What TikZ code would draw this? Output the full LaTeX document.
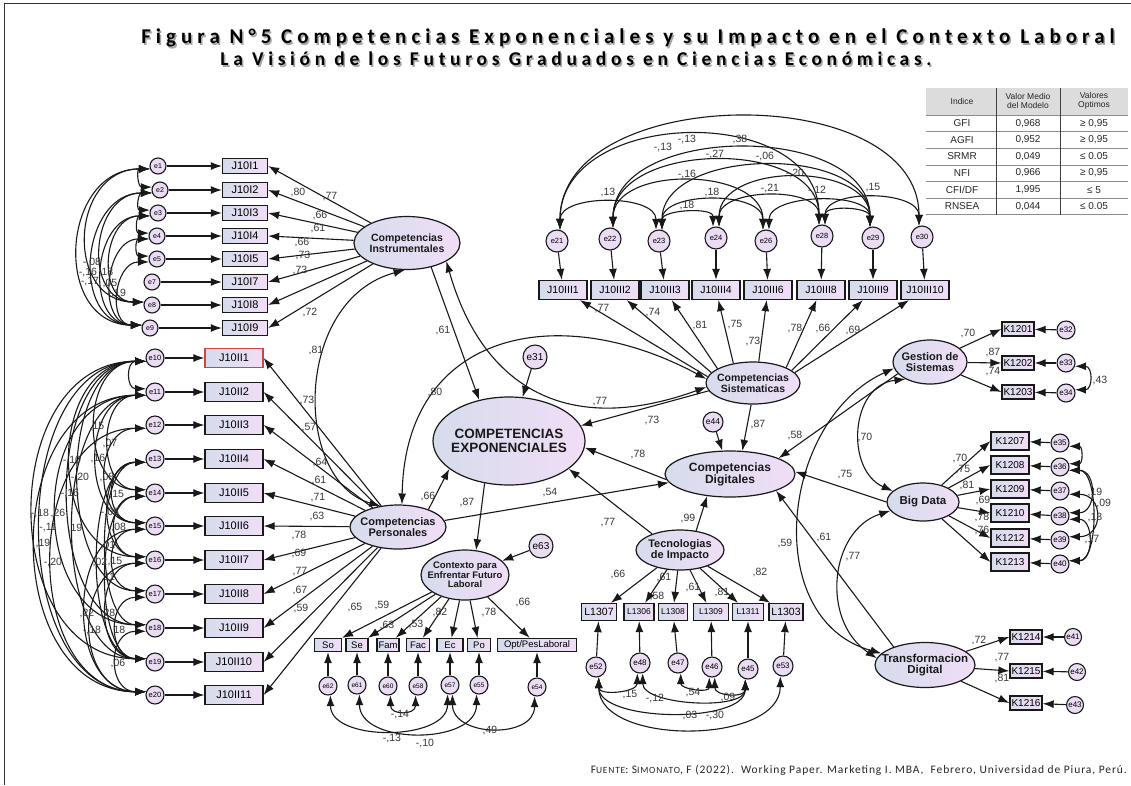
\documentclass[tikz,border=0pt]{standalone}
\usepackage{fontspec}
\setmainfont{Liberation Sans}
\newfontfamily\headfont{Carlito}
\usetikzlibrary{shapes.geometric,arrows.meta,calc}
\definecolor{lavL}{RGB}{214,220,236}
\definecolor{lavR}{RGB}{240,222,246}
\definecolor{errfill}{RGB}{234,220,242}
\definecolor{ink}{RGB}{25,25,25}
\definecolor{numc}{RGB}{55,55,55}
\definecolor{hdr}{RGB}{220,220,220}
\definecolor{redbox}{RGB}{205,70,70}
\newcommand\sz[1]{\fontsize{#1}{#1}\selectfont}
\tikzset{
  obs/.style={rectangle, draw=ink, line width=1.3pt, left color=lavL, right color=lavR,
              inner sep=0pt, minimum height=15pt, font=\sz{11}},
  plainbox/.style={},
  redline/.style={draw=redbox},
  lat/.style={ellipse, draw=ink, line width=1.2pt, left color=lavL, right color=lavR, inner sep=0pt},
  lattxt/.style={align=center, inner sep=0pt, text=ink, font=\bfseries\sz{#1}},
  err/.style={circle, draw=ink, line width=1.1pt, fill=errfill, inner sep=0pt, minimum size=#1},
  reg/.style={draw=ink, line width=1.1pt, -{Latex[length=11pt,width=8pt]}},
  cov/.style={draw=ink, line width=1.1pt, {Latex[length=11pt,width=8pt]}-{Latex[length=11pt,width=8pt]}},
  num/.style={text=numc, inner sep=0pt, font=\sz{10.5}},
  head/.style={inner sep=0pt, font=\headfont\bfseries\sz{#1}\addfontfeature{LetterSpace=24}},
}
% covariance arcs: left side, top side, bottom side, right side
\newcommand\lcov[3]{\draw[cov] (#1.200) .. controls +(-#3,0) and +(-#3,0) .. (#2.160);}
\newcommand\tcov[3]{\draw[cov] (#1.75) .. controls +(0,-#3) and +(0,-#3) .. (#2.105);}
\newcommand\bcov[3]{\draw[cov] (#1.285) .. controls +(0,#3) and +(0,#3) .. (#2.255);}
\newcommand\rcov[3]{\draw[cov] (#1.340) .. controls +(#3,0) and +(#3,0) .. (#2.20);}
\begin{document}
\begin{tikzpicture}[x=1pt,y=-1pt]
\useasboundingbox (0,0) rectangle (1131,785);
\fill[white] (0,0) rectangle (1131,785);
\draw[black!80, line width=1pt] (4,785) -- (4,3) -- (1131,3);

% ---------- heading ----------
\node[head=21, text=black!35] (titleAs) at (629.5,39.5)
  {Figura N°5 Competencias Exponenciales y su Impacto en el Contexto Laboral};
\node[head=21, text=black] (titleA) at (628,38)
  {Figura N°5 Competencias Exponenciales y su Impacto en el Contexto Laboral};
\node[head=19.5, text=black!35] (titleBs) at (577.5,60.5)
  {La Visión de los Futuros Graduados en Ciencias Económicas.};
\node[head=19.5, text=black] (titleB) at (576,59)
  {La Visión de los Futuros Graduados en Ciencias Económicas.};

% ---------- fit index table ----------
\fill[hdr] (926,88) rectangle (1128,115);
\foreach \yy in {115,131.6,148.2,164.8,181.4,198,214.6}
  \draw[black!45, line width=0.6pt] (926,\yy) -- (1128,\yy);
\draw[black!75, line width=0.8pt] (996,88) -- (996,214.6) (1060,88) -- (1060,214.6);
\begin{scope}[every node/.style={inner sep=0pt, text=black!85, align=center, font=\sz{8.5}}]
\node (th1) at (962,101) {Indice};
\node (th2) at (1028,101) {Valor Medio\\del Modelo};
\node (th3) at (1094,101) {Valores\\Optimos};
\end{scope}
\foreach \a/\b/\c [count=\i] in {GFI/{0,968}/{≥ 0,95}, AGFI/{0,952}/{≥ 0,95}, SRMR/{0,049}/{≤ 0.05},
    NFI/{0,966}/{≥ 0,95}, {CFI/DF}/{1,995}/{≤ 5}, RNSEA/{0,044}/{≤ 0.05}}{
  \pgfmathsetmacro\yy{115+16.6*(\i-0.5)}
  \node[inner sep=0pt, text=black!85, font=\sz{10}] (ta\i) at (962,\yy) {\a};
  \node[inner sep=0pt, text=black!85, font=\sz{10}] (tb\i) at (1028,\yy) {\b};
  \node[inner sep=0pt, text=black!85, font=\sz{10}] (tc\i) at (1094,\yy) {\c};
}

% ---------- latent variables ----------
\node[lat, minimum width=106pt, minimum height=53pt] (CI) at (407,243) {};
\node[lattxt=10.5] (CIt) at (CI) {Competencias\\Instrumentales};
\node[lat, minimum width=96pt, minimum height=44pt] (CP) at (398,527) {};
\node[lattxt=11] (CPt) at (CP) {Competencias\\Personales};
\node[lat, minimum width=152pt, minimum height=88pt] (CE) at (509,441) {};
\node[lattxt=13.5] (CEt) at (CE) {COMPETENCIAS\\EXPONENCIALES};
\node[lat, minimum width=94pt, minimum height=42pt] (CS) at (753,383) {};
\node[lattxt=10.5] (CSt) at (CS) {Competencias\\Sistematicas};
\node[lat, minimum width=130pt, minimum height=46pt] (CD) at (730,474) {};
\node[lattxt=12] (CDt) at (CD) {Competencias\\Digitales};
\node[lat, minimum width=88pt, minimum height=50pt] (CX) at (465,575) {};
\node[lattxt=9.5] (CXt) at (CX) {Contexto para\\Enfrentar Futuro\\Laboral};
\node[lat, minimum width=88pt, minimum height=40pt] (CT) at (680,550) {};
\node[lattxt=11] (CTt) at (CT) {Tecnologias\\de Impacto};
\node[lat, minimum width=74pt, minimum height=44pt] (CG) at (930,362) {};
\node[lattxt=11] (CGt) at (CG) {Gestion de\\Sistemas};
\node[lat, minimum width=72pt, minimum height=38pt] (CB) at (923,502) {};
\node[lattxt=11.5] (CBt) at (CB) {Big Data};
\node[lat, minimum width=100pt, minimum height=45pt] (CTD) at (925,665) {};
\node[lattxt=11.5] (CTDt) at (CTD) {Transformacion\\Digital};

\node[err=24pt, font=\sz{10}] (e31) at (535,357) {e31};
\node[err=20pt, font=\sz{8.5}] (e44) at (713,422) {e44};
\node[err=24pt, font=\sz{10}] (e63) at (541,546) {e63};

% ---------- instrumental indicators ----------
\foreach \n/\y/\ex in {1/166/158,2/190/160,3/213/158,4/236/157,5/259/157,7/282/152,8/305/152,9/328/150}{
  \node[obs, minimum width=45pt] (I\n) at (245,\y) {J10I\n};
  \node[err=16pt, font=\sz{7}] (e\n) at (\ex,\y) {e\n};
  \draw[reg] (e\n) -- (I\n);
  \draw[reg] (CI) -- (I\n.east);
}
\lcov{e1}{e2}{14} \lcov{e2}{e3}{14} \lcov{e3}{e4}{14} \lcov{e4}{e5}{14}
\lcov{e1}{e8}{80} \lcov{e1}{e9}{90} \lcov{e2}{e9}{72} \lcov{e2}{e8}{62}
\lcov{e3}{e9}{58} \lcov{e3}{e8}{48} \lcov{e4}{e9}{45} \lcov{e5}{e9}{35}

% ---------- personal indicators ----------
\foreach \n/\y/\st in {1/358/redline,2/392/plainbox,3/425/plainbox,4/459/plainbox,5/493/plainbox,
    6/526/plainbox,7/560/plainbox,8/594/plainbox,9/628/plainbox,10/662/plainbox,11/695/plainbox}{
  \pgfmathtruncatemacro\en{\n+9}
  \node[obs, \st, minimum width=58pt, minimum height=19pt] (P\n) at (234,\y) {J10II\n};
  \node[err=18pt, font=\sz{7.5}] (e\en) at (155,\y) {e\en};
  \draw[reg] (e\en) -- (P\n);
  \draw[reg] (CP) -- (P\n.east);
}
\lcov{e10}{e11}{20} \lcov{e10}{e14}{67} \lcov{e11}{e14}{49} \lcov{e10}{e16}{100}
\lcov{e11}{e15}{65} \lcov{e10}{e17}{89} \lcov{e12}{e15}{53} \lcov{e10}{e18}{103}
\lcov{e13}{e15}{43} \lcov{e10}{e19}{150} \lcov{e11}{e18}{119} \lcov{e13}{e16}{49}
\lcov{e10}{e20}{140} \lcov{e11}{e19}{96} \lcov{e14}{e16}{40} \lcov{e11}{e20}{147}
\lcov{e13}{e18}{52} \lcov{e12}{e20}{125} \lcov{e13}{e19}{63} \lcov{e15}{e17}{43}
\lcov{e14}{e19}{52} \lcov{e15}{e20}{80} \lcov{e16}{e19}{52} \lcov{e16}{e20}{73}
\lcov{e17}{e19}{39} \lcov{e18}{e20}{39}

% ---------- systematic indicators ----------
\foreach \n/\x/\ex/\ey/\a in {1/563/557/241/172,2/615/610/239/166,3/665/659/241/158,4/716/716/238/135,
    6/768/766/241/75,8/821/822/236/25,9/873/873/238/18,10/925/922/237/14}{
  \pgfmathtruncatemacro\en{\n+20}
  \node[obs, minimum width=48pt, minimum height=19pt, font=\sz{10.5}] (S\n) at (\x,290) {J10III\n};
  \node[err=22pt, font=\sz{7.5}] (e\en) at (\ex,\ey) {e\en};
  \draw[reg] (e\en) -- (S\n);
  \draw[reg] (CS.\a) -- (S\n);
}
\tcov{e21}{e30}{147} \tcov{e21}{e28}{123} \tcov{e22}{e29}{105} \tcov{e22}{e28}{87}
\tcov{e23}{e29}{83} \tcov{e22}{e26}{63} \tcov{e24}{e29}{65} \tcov{e23}{e26}{39}
\tcov{e21}{e23}{36} \tcov{e24}{e28}{39} \tcov{e26}{e29}{36} \tcov{e28}{e30}{36}
\tcov{e23}{e24}{20} \tcov{e28}{e29}{20}

% ---------- context indicators ----------
\foreach \t/\x/\w/\en/\ey in {So/328/27/62/686, Se/357/22/61/685, Fam/388/22/60/686, Fac/418/23/58/686,
    Ec/450/26/57/685, Po/479/23/55/685, {Opt/PesLaboral}/537/79/54/687}{
  \node[obs, minimum width=\w pt, minimum height=13pt, font=\sz{9.5}] (x\en) at (\x,645) {\t};
  \node[err=18pt, font=\sz{6.5}] (e\en) at (\x,\ey) {e\en};
  \draw[reg] (e\en) -- (x\en);
  \draw[reg] (CX) -- (x\en);
}
\bcov{e60}{e58}{20} \bcov{e62}{e57}{47} \bcov{e61}{e55}{51} \bcov{e57}{e54}{43}

% ---------- technology indicators ----------
\foreach \t/\x/\w/\f/\en/\ex/\ey in {L1307/599/35/10.5/52/596/667, L1306/639/30/8.5/48/640/663,
    L1308/673/29/8.5/47/678/663, L1309/711/35/8.5/46/712/667, L1311/748/31/8.5/45/748/669,
    L1303/786/34/10.5/53/783/666}{
  \node[obs, minimum width=\w pt, minimum height=17pt, font=\sz{\f}] (\t) at (\x,612) {\t};
  \node[err=20pt, font=\sz{8}] (e\en) at (\ex,\ey) {e\en};
  \draw[reg] (e\en) -- (\t);
  \draw[reg] (CT) -- (\t);
}
\bcov{e52}{e48}{19} \bcov{e48}{e45}{32} \bcov{e47}{e46}{16} \bcov{e46}{e45}{19}
\bcov{e52}{e53}{69} \bcov{e52}{e45}{45}

% ---------- digital sub-factors ----------
\foreach \k/\y/\ey [count=\c] in {1201/329/330,1202/363/363,1203/392/393}{
  \pgfmathtruncatemacro\en{\c+31}
  \node[obs, minimum width=32pt, minimum height=14pt, font=\sz{10}] (K\k) at (1018,\y) {K\k};
  \node[err=18pt, font=\sz{8}] (e\en) at (1066,\ey) {e\en};
  \draw[reg] (e\en) -- (K\k);
  \draw[reg] (CG) -- (K\k.west);
}
\rcov{e33}{e34}{18}
\foreach \k/\y/\ey [count=\c] in {1207/441/443,1208/465/467,1209/489/491,1210/513/516,1212/538/540,1213/562/564}{
  \pgfmathtruncatemacro\en{\c+34}
  \node[obs, minimum width=38pt, minimum height=18pt, font=\sz{10}] (K\k) at (1010,\y) {K\k};
  \node[err=18pt, font=\sz{8}] (e\en) at (1060,\ey) {e\en};
  \draw[reg] (e\en) -- (K\k);
  \draw[reg] (CB) -- (K\k.west);
}
\rcov{e35}{e36}{14} \rcov{e36}{e38}{28} \rcov{e37}{e39}{35} \rcov{e36}{e40}{30} \rcov{e38}{e40}{25}
\foreach \k/\y/\ex/\ey [count=\c] in {1214/637/1073/637,1215/671/1077/672,1216/703/1075/705}{
  \pgfmathtruncatemacro\en{\c+40}
  \node[obs, minimum width=32pt, minimum height=14pt, font=\sz{10}] (K\k) at (1026,\y) {K\k};
  \node[err=17pt, font=\sz{8}] (e\en) at (\ex,\ey) {e\en};
  \draw[reg] (e\en) -- (K\k);
  \draw[reg] (CTD) -- (K\k.west);
}

% ---------- structural paths ----------
\draw[reg] (CI.315) -- (CE.126);
\draw[cov] (CI.265) .. controls (293,300) and (293,481) .. (CP.130);
\draw[cov] (CP.80) .. controls (405,330) and (560,300) .. (CS.175);
\draw[cov] (CI.335) .. controls (480,380) and (560,440) .. (CS.185);
\draw[reg] (CS.190) -- (CE.12);
\draw[reg] (CD.185) -- (CE.355);
\draw[reg] (CP.30) -- (CE.205);
\draw[reg] (CE.240) -- (CX.66);
\draw[reg] (e63) -- (CX);
\draw[reg] (CT.150) -- (CE.335);
\draw[reg] (CT.50) -- (CD.224);
\draw[reg] (CP.8) -- (CD.188);
\draw[reg] (CS.265) -- (CD.62);
\draw[reg] (e44) -- (CD);
\draw[reg] (e31) -- (CE);
\draw[reg] (CG.200) -- (CD.18);
\draw[reg] (CB.180) -- (CD.2);
\draw[reg] (CTD.150) -- (CD.340);
\draw[cov] (CG.215) .. controls (850,385) and (845,470) .. (CB.160);
\draw[cov] (CG.190) .. controls (780,420) and (760,620) .. (CTD.165);
\draw[cov] (CB.195) .. controls (830,530) and (820,620) .. (CTD.172);

% ---------- estimates ----------
\foreach \x/\y/\t [count=\i] in {298/192/{,80},330/197/{,77},320/215/{,66},318/228/{,61},302/242/{,66},
    303/255/{,73},300/270/{,73},310/312/{,72},
    307/400/{,73},309/428/{,57},320/462/{,64},319/480/{,61},318/498/{,71},317/516/{,63},299/535/{,78},
    299/553/{,69},300/572/{,77},300/590/{,67},301/608/{,59}}
  \node[num] (na\i) at (\x,\y) {\t};
\foreach \x/\y/\t [count=\i] in {316/350/{,81},443/330/{,61},435/392/{,80},600/402/{,77},652/420/{,73},
    638/454/{,78},428/496/{,66},467/502/{,87},550/493/{,54},608/523/{,77},688/518/{,99},758/424/{,87},
    795/435/{,58},865/437/{,70},845/475/{,75},785/543/{,59},824/537/{,61},853/557/{,77}}
  \node[num] (nb\i) at (\x,\y) {\t};
\foreach \x/\y/\t [count=\i] in {602/309/{,77},653/313/{,74},700/325/{,81},735/325/{,75},753/341/{,73},
    795/328/{,78},823/328/{,66},853/330/{,69},
    608/192/{,13},663/148/{-,13},687/140/{-,13},740/140/{,38},715/155/{-,27},765/157/{-,06},
    687/175/{-,16},795/173/{-,20},712/192/{,18},687/205/{,18},770/188/{-,21},817/190/{-,12},873/188/{,15}}
  \node[num] (nc\i) at (\x,\y) {\t};
\foreach \x/\y/\t [count=\i] in {968/333/{,70},993/352/{,87},993/372/{,74},1100/380/{,43},
    960/458/{,70},963/470/{,75},967/485/{,81},983/500/{,69},982/517/{,78},982/530/{,76},
    1095/492/{,19},1102/503/{-,09},1095/517/{,13},1092/540/{,17},
    979/640/{,72},1002/658/{,77},1002/678/{,81}}
  \node[num] (nd\i) at (\x,\y) {\t};
\foreach \x/\y/\t [count=\i] in {355/607/{,65},382/605/{,59},387/625/{,63},416/624/{,53},440/612/{,82},
    489/612/{,78},523/602/{,66},400/715/{-,14},392/738/{-,13},425/743/{-,10},490/730/{,49},
    618/574/{,66},664/577/{,61},657/596/{,58},693/587/{,61},722/592/{,81},760/572/{,82},
    630/695/{,15},655/698/{-,12},693/693/{,54},728/697/{,09},690/715/{,03},715/715/{-,30}}
  \node[num] (ne\i) at (\x,\y) {\t};
\foreach \x/\y/\t [count=\i] in {97/427/{,15},110/443/{,07},72/460/{-,10},98/458/{,16},80/477/{-,20},
    107/477/{,08},70/493/{-,16},115/495/{-,15},40/513/{-,18},58/513/{,26},110/512/{-,05},48/528/{-,11},
    75/528/{,19},117/527/{-,08},43/543/{,19},108/545/{,01},53/562/{-,20},100/562/{,02},115/562/{,15},
    108/578/{,11},87/613/{,22},108/613/{,28},92/630/{-,18},118/630/{,18},118/663/{,06}}
  \node[num] (nf\i) at (\x,\y) {\t};
\foreach \x/\y/\t [count=\i] in {92/262/{-,08},88/272/{-,16},106/272/{,18},90/282/{-,17},110/283/{,05},
    117/293/{-,19}}
  \node[num] (ng\i) at (\x,\y) {\t};

% ---------- source ----------
\node[anchor=east, inner sep=0pt, text=black!85, font=\headfont\sz{11.5}\addfontfeature{LetterSpace=8}] (src) at (1127,770)
  {F{\sz{9.5}UENTE}: S{\sz{9.5}IMONATO}, F (2022).\ \ Working Paper. Marketing I. MBA,\ \ Febrero, Universidad de Piura, Perú.};
\end{tikzpicture}
\end{document}
